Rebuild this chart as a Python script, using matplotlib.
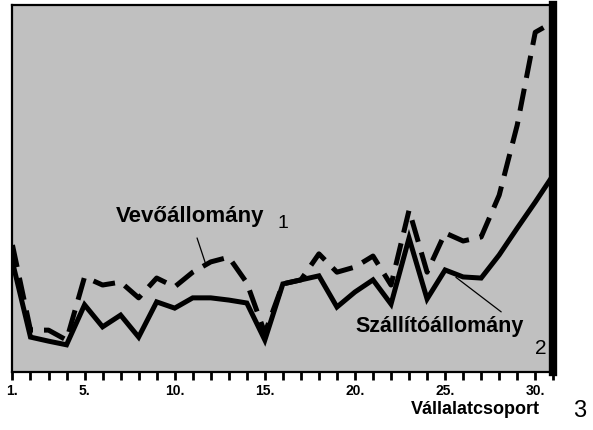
#!/usr/bin/env python
"""Vevőállomány / Szállítóállomány by company group (scanned chart)."""

import numpy as np
import matplotlib
matplotlib.use("Agg")
import matplotlib.pyplot as plt

# company groups 1..31
groups = list(range(1, 32))

# Vevőállomány (dashed line)
vevo = [34.6, 11.4, 11.4, 8.7, 25.9, 23.7, 24.5, 20.2, 25.6, 23.2,
        27.2, 30.0, 31.3, 24.3, 10.6, 24.0, 25.1, 32.2, 27.2, 28.6,
        31.6, 23.7, 44.1, 27.2, 37.9, 35.7, 36.8, 48.2, 67.3, 92.6, 95.4]

# Szállítóállomány (solid line)
szallito = [30.0, 9.5, 8.4, 7.4, 18.3, 12.3, 15.5, 9.5, 19.1, 17.4,
            20.2, 20.2, 19.6, 18.8, 8.7, 24.0, 25.1, 26.2, 17.7, 21.8,
            25.1, 18.5, 36.5, 19.9, 27.8, 25.9, 25.6, 31.9, 39.2, 46.3, 53.7]

tick_labels = ["1.", "5.", "10.", "15.", "20.", "25.", "30."]
tick_pos = [1, 5, 10, 15, 20, 25, 30]

plt.rcParams['font.family'] = ['Liberation Sans', 'DejaVu Sans']
plt.rcParams['font.weight'] = 'bold'

fig = plt.figure(figsize=(5.93, 4.30), dpi=100)
ax = fig.add_axes([0.021, 0.135, 0.912, 0.853])
ax.set_facecolor('#c0c0c0')

ax.plot(groups, szallito, color='black', lw=3.6, solid_joinstyle='miter')
ax.plot(groups, vevo, color='black', lw=3.6, dashes=(4.5, 2.2))

ax.set_xlim(1, 31)
ax.set_ylim(0, 100)
ax.set_yticks([])
ax.set_xticks(groups, minor=True)
ax.set_xticks(tick_pos)
ax.set_xticklabels(tick_labels, fontsize=10, fontweight='bold')
ax.tick_params(axis='x', which='both', direction='out', length=6,
               width=2, pad=3)

for side in ['left', 'top', 'bottom']:
    ax.spines[side].set_linewidth(1.6)
ax.spines['right'].set_linewidth(6)

# labels on the curves
ax.annotate("Vevőállomány", xy=(11.7, 29.7), xytext=(10.85, 42.3),
            ha='center', va='center', fontsize=16, fontweight='bold',
            arrowprops=dict(arrowstyle='-', lw=0.9, color='black',
                            shrinkA=6, shrinkB=0))
ax.text(16.0, 40.5, "1", fontsize=14, fontweight='normal',
        ha='center', va='center')

ax.annotate("Szállítóállomány", xy=(25.6, 25.8), xytext=(24.7, 12.3),
            ha='center', va='center', fontsize=15.5, fontweight='bold',
            arrowprops=dict(arrowstyle='-', lw=0.9, color='black',
                            shrinkA=2, shrinkB=0,
                            relpos=(0.9, 1.0)))
ax.text(30.3, 6.5, "2", fontsize=15, fontweight='normal',
        ha='center', va='center')

fig.text(0.801, 0.048, "Vállalatcsoport", fontsize=13, fontweight='bold',
         ha='center', va='center')
fig.text(0.978, 0.045, "3", fontsize=17, fontweight='normal',
         ha='center', va='center')

fig.savefig("out.png", dpi=100)
